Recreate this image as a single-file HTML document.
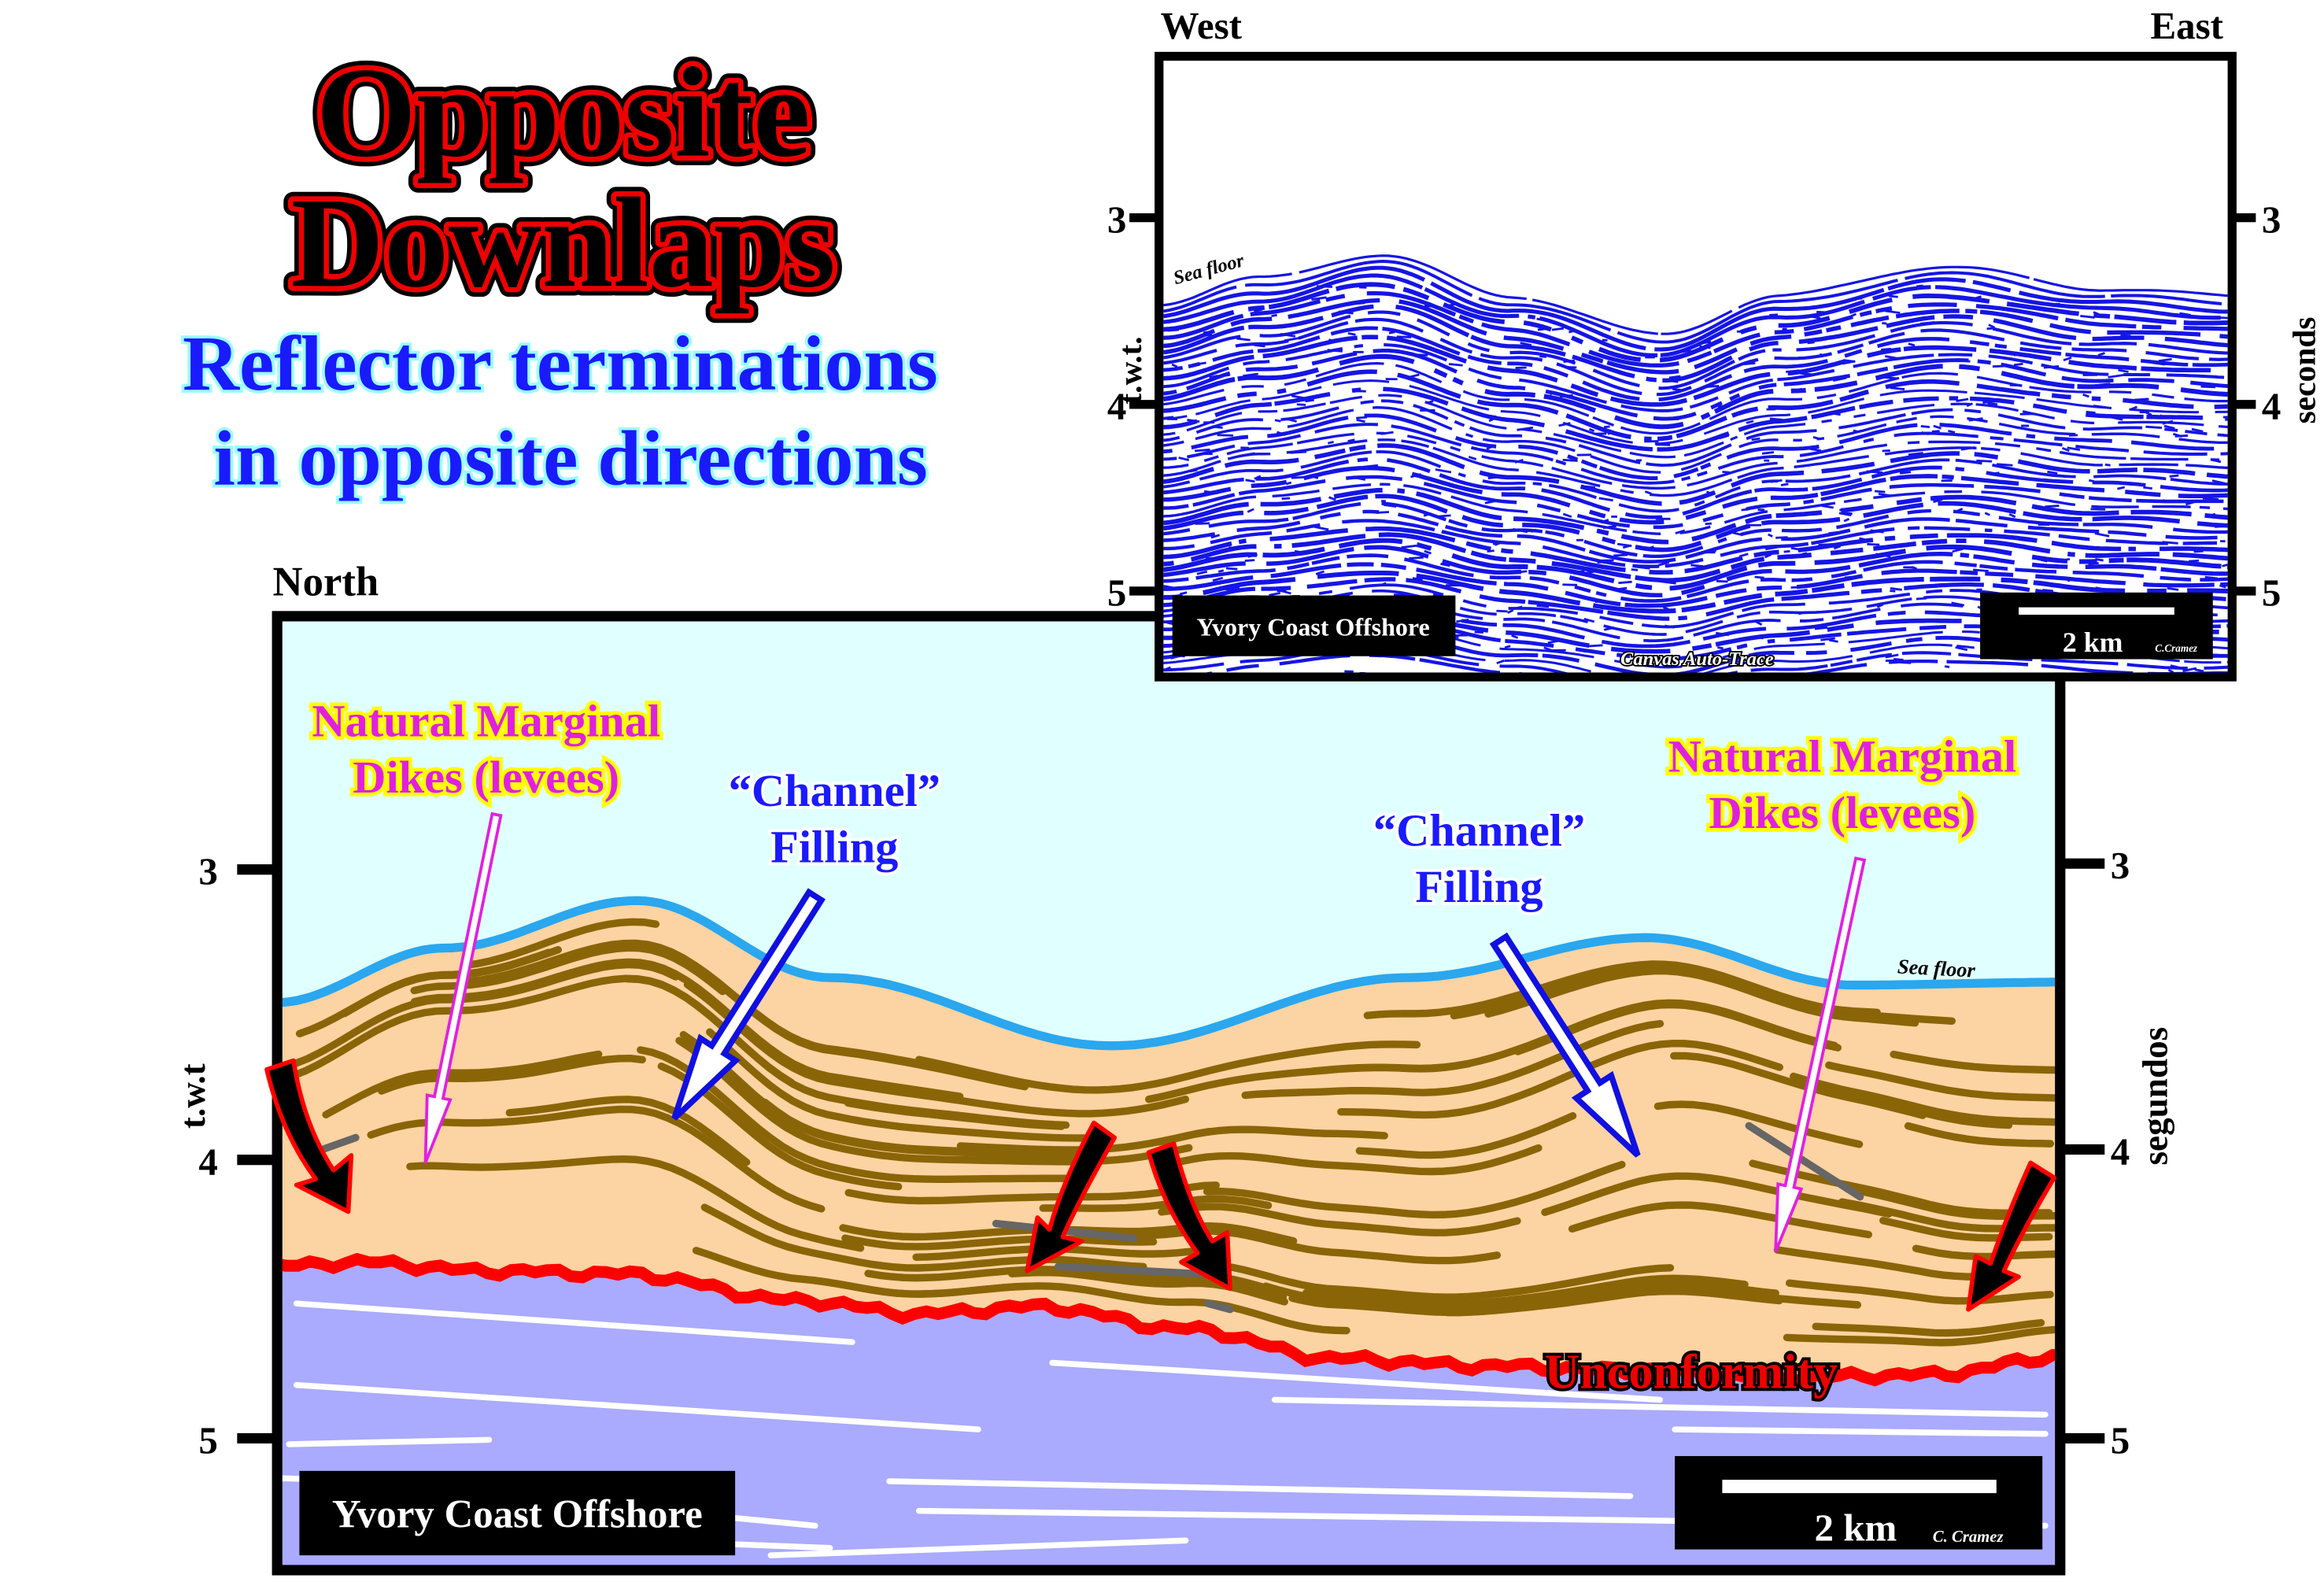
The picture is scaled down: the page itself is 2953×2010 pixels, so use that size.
<!DOCTYPE html>
<html><head><meta charset="utf-8"><style>
html,body{margin:0;padding:0;background:#fff;width:2953px;height:2010px;overflow:hidden}
svg{display:block}
text{font-family:"Liberation Serif",serif;font-weight:bold}
</style></head><body>
<svg id="s" width="2953" height="2010" viewBox="0 0 1568 1068" preserveAspectRatio="none" xmlns="http://www.w3.org/2000/svg">
<defs>
<clipPath id="cl"><rect x="190" y="419" width="1197" height="638"/></clipPath>
<clipPath id="cs"><rect x="785" y="41" width="718" height="413"/></clipPath>
</defs>
<!-- titles -->
<g text-anchor="middle">
<text x="380" y="105" font-size="87" fill="#000" stroke="#000" stroke-width="13" stroke-linejoin="round">Opposite</text>
<text x="380" y="105" font-size="87" fill="#000" stroke="#e00" stroke-width="7" stroke-linejoin="round" paint-order="stroke">Opposite</text>
<text x="380" y="193" font-size="87" fill="#000" stroke="#000" stroke-width="13" stroke-linejoin="round">Downlaps</text>
<text x="380" y="193" font-size="87" fill="#000" stroke="#e00" stroke-width="7" stroke-linejoin="round" paint-order="stroke">Downlaps</text>
<text x="378" y="263" font-size="53" fill="#1a1aff" stroke="#9ff" stroke-width="4" paint-order="stroke">Reflector terminations</text>
<text x="385" y="327" font-size="53" fill="#1a1aff" stroke="#9ff" stroke-width="4" paint-order="stroke">in opposite directions</text>
</g>
<!-- lower panel -->
<text x="184" y="402" font-size="28" fill="#000">North</text>
<g id="lower" clip-path="url(#cl)">
<rect x="190" y="419" width="1197" height="638" fill="#e0ffff"/>
<path id="orange" fill="#fcd3a2"/>
<path id="purple" fill="#aaaaff"/>
<g id="white" stroke="#fff" stroke-width="4" fill="none" stroke-linecap="round"></g>
<g id="brown" stroke="#8a6508" stroke-width="5" fill="none" stroke-linecap="round"></g>
<g stroke="#666" stroke-width="5" stroke-linecap="round">
<line x1="212" y1="778" x2="240" y2="768"/><line x1="672" y1="826" x2="765" y2="836"/><line x1="714" y1="855" x2="810" y2="860"/><line x1="1180" y1="760" x2="1255" y2="808"/><line x1="815" y1="880" x2="830" y2="884"/>
</g>
<path id="sea" stroke="#2aa7ee" stroke-width="6" fill="none"/>
<path id="unc" stroke="#f00" stroke-width="8" fill="none"/>
</g>
<rect x="187" y="416" width="1203" height="644" fill="none" stroke="#000" stroke-width="7"/>
<g stroke="#000" stroke-width="7"><line x1="160" y1="587" x2="187" y2="587"/><line x1="160" y1="783" x2="187" y2="783"/><line x1="160" y1="971" x2="187" y2="971"/>
<line x1="1390" y1="583" x2="1420" y2="583"/><line x1="1390" y1="776" x2="1420" y2="776"/><line x1="1390" y1="971" x2="1420" y2="971"/></g>
<g font-size="26"><text x="134" y="597">3</text><text x="134" y="793">4</text><text x="134" y="981">5</text>
<text x="1424" y="593">3</text><text x="1424" y="786">4</text><text x="1424" y="981">5</text></g>
<text transform="translate(138,740) rotate(-90)" font-size="24" text-anchor="middle">t.w.t</text>
<text transform="translate(1462,740) rotate(-90)" font-size="24" text-anchor="middle">segundos</text>
<rect x="202" y="993" width="294" height="57" fill="#000"/>
<text x="349" y="1031" font-size="27" fill="#fff" text-anchor="middle">Yvory Coast Offshore</text>
<rect x="1130" y="983" width="248" height="63" fill="#000"/>
<rect x="1162" y="999" width="185" height="9" fill="#fff"/>
<text x="1252" y="1040" font-size="26" fill="#fff" text-anchor="middle">2 km</text>
<text x="1304" y="1041" font-size="11" fill="#fff" font-style="italic">C. Cramez</text>
<text x="1280" y="657" font-size="14" font-style="italic" transform="rotate(3,1280,657)">Sea floor</text>
<!-- labels -->
<g text-anchor="middle" font-size="31">
<text x="328" y="497" fill="#e020e0" stroke="#ff0" stroke-width="5" paint-order="stroke">Natural Marginal</text>
<text x="328" y="535" fill="#e020e0" stroke="#ff0" stroke-width="5" paint-order="stroke">Dikes (levees)</text>
<text x="1243" y="521" fill="#e020e0" stroke="#ff0" stroke-width="5" paint-order="stroke">Natural Marginal</text>
<text x="1243" y="559" fill="#e020e0" stroke="#ff0" stroke-width="5" paint-order="stroke">Dikes (levees)</text>
<text x="563" y="544" fill="#1a1aff" stroke="#fff" stroke-width="4" paint-order="stroke">“Channel”</text>
<text x="563" y="582" fill="#1a1aff" stroke="#fff" stroke-width="4" paint-order="stroke">Filling</text>
<text x="998" y="571" fill="#1a1aff" stroke="#fff" stroke-width="4" paint-order="stroke">“Channel”</text>
<text x="998" y="609" fill="#1a1aff" stroke="#fff" stroke-width="4" paint-order="stroke">Filling</text>
<text x="1141" y="937" font-size="33" fill="#e00" stroke="#000" stroke-width="4" paint-order="stroke">Unconformity</text>
</g>
<g id="arrows"></g>
<!-- seismic panel -->
<text x="783" y="26" font-size="26">West</text>
<text x="1500" y="26" font-size="26" text-anchor="end">East</text>
<g id="seis" clip-path="url(#cs)"><rect x="785" y="41" width="718" height="413" fill="#fff"/></g>
<rect x="782" y="38" width="724" height="419" fill="none" stroke="#000" stroke-width="6"/>
<g stroke="#000" stroke-width="6"><line x1="762" y1="147" x2="782" y2="147"/><line x1="762" y1="273" x2="782" y2="273"/><line x1="762" y1="399" x2="782" y2="399"/>
<line x1="1506" y1="147" x2="1522" y2="147"/><line x1="1506" y1="273" x2="1522" y2="273"/><line x1="1506" y1="399" x2="1522" y2="399"/></g>
<g font-size="26"><text x="747" y="157">3</text><text x="747" y="283">4</text><text x="747" y="409">5</text>
<text x="1526" y="157">3</text><text x="1526" y="283">4</text><text x="1526" y="409">5</text></g>
<text transform="translate(770,250) rotate(-90)" font-size="22" text-anchor="middle">t.w.t.</text>
<text transform="translate(1562,250) rotate(-90)" font-size="22" text-anchor="middle">seconds</text>
<text x="793" y="192" font-size="13" font-style="italic" transform="rotate(-15,793,192)">Sea floor</text>
<rect x="791" y="402" width="191" height="41" fill="#000"/>
<text x="886" y="429" font-size="17" fill="#fff" text-anchor="middle">Yvory Coast Offshore</text>
<rect x="1336" y="400" width="157" height="45" fill="#000"/>
<rect x="1362" y="410" width="105" height="5" fill="#fff"/>
<text x="1412" y="440" font-size="19" fill="#fff" text-anchor="middle">2 km</text>
<text x="1454" y="440" font-size="7" fill="#fff" font-style="italic">C.Cramez</text>
<text x="1145" y="449" font-size="13" font-style="italic" fill="#fff" stroke="#000" stroke-width="2" paint-order="stroke" text-anchor="middle">Canvas Auto-Trace</text>
</svg>
<script>
var NS="http://www.w3.org/2000/svg";
function lerp(pts,x){for(var i=0;i<pts.length-1;i++){if(x<=pts[i+1][0]){var t=(x-pts[i][0])/(pts[i+1][0]-pts[i][0]);var a=(1-Math.cos(t*Math.PI))/2;return pts[i][1]+(pts[i+1][1]-pts[i][1])*a;}}return pts[pts.length-1][1];}
var seed=7;function rnd(){seed=(seed*16807)%2147483647;return seed/2147483647;}
function el(p,tag,at){var e=document.createElementNS(NS,tag);for(var k in at)e.setAttribute(k,at[k]);p.appendChild(e);return e;}
var S=[[185,677],[300,640],[430,608],[560,660],[750,706],[950,660],[1110,633],[1250,665],[1400,663]];
var U=[[185,855],[240,852],[330,858],[420,860],[540,878],[620,887],[700,882],[800,897],[900,917],[1000,922],[1100,925],[1200,930],[1300,928],[1400,915]];
function pathOf(pts,f,x0,x1,st){var d="";for(var x=x0;x<=x1;x+=st){d+=(d?"L":"M")+x.toFixed(1)+","+f(x).toFixed(1);}return d;}
var fs=function(x){return lerp(S,x)}, fu=function(x){return lerp(U,x)};
var fuj=function(x){var r=Math.sin(x*0.9)*1.5+Math.sin(x*0.23)*2;return lerp(U,x)+r;};
document.getElementById("sea").setAttribute("d",pathOf(S,fs,185,1395,5));
document.getElementById("unc").setAttribute("d",pathOf(U,fuj,185,1395,8));
document.getElementById("orange").setAttribute("d",pathOf(S,fs,185,1395,5)+"L1395,1060L185,1060Z");
document.getElementById("purple").setAttribute("d",pathOf(U,fuj,185,1395,8)+"L1395,1060L185,1060Z");
var W=[[200,880,575,906],[200,935,660,965],[195,975,330,972],[190,998,270,1000],[290,1005,550,1030],[520,1050,800,1040],[600,1000,1100,1010],[620,1020,1380,1030],[710,920,1120,945],[860,945,1380,955],[1130,965,1380,968],[430,1040,560,1045]];
var wg=document.getElementById("white");W.forEach(function(w){el(wg,"line",{x1:w[0],y1:w[1],x2:w[2],y2:w[3]});});
var bg=document.getElementById("brown");
var mounds=[[290,50],[440,55],[560,-25],[820,30],[1130,55],[1240,40]];
for(var i=0;i<75;i++){var x0=190+rnd()*1150,len=110+rnd()*260,t=0.05+rnd()*0.9;var x1=Math.min(x0+len,1390);
 var f=function(x){var s=fs(x),u=fu(x);var y=s+(u-s)*t+12*(1-t)-4;var b=0;mounds.forEach(function(m){b-=m[1]*t*(1-t)*2.5*Math.exp(-Math.pow((x-m[0])/90,2));});return Math.max(s+12,Math.min(u-8,y+b));};
 el(bg,"path",{d:pathOf(null,f,x0,x1,8)});}
var ag=document.getElementById("arrows");
function hollow(x0,y0,x1,y1,w,hw,hl,fill,stroke,sw){var dx=x1-x0,dy=y1-y0,L=Math.sqrt(dx*dx+dy*dy),ux=dx/L,uy=dy/L,px=-uy,py=ux;var bx=x1-ux*hl,by=y1-uy*hl;
 var p=[[x0+px*w,y0+py*w],[bx+px*w,by+py*w],[bx+px*hw,by+py*hw],[x1,y1],[bx-px*hw,by-py*hw],[bx-px*w,by-py*w],[x0-px*w,y0-py*w]];
 el(ag,"polygon",{points:p.map(function(q){return q[0].toFixed(1)+","+q[1].toFixed(1)}).join(" "),fill:fill,stroke:stroke,"stroke-width":sw,"stroke-linejoin":"miter"});}
hollow(335,550,287,785,3,8,45,"#fff","#e020e0",2);
hollow(1255,580,1198,845,3,8,45,"#fff","#e020e0",2);
hollow(550,605,455,755,5,14,55,"#fff","#1010e0",4);
hollow(1012,635,1105,780,5,14,55,"#fff","#1010e0",4);
function curved(d){el(ag,"path",{d:d,fill:"#000",stroke:"#f00","stroke-width":3,"stroke-linejoin":"round"});}
curved("M180,722 L198,716 Q205,760 225,790 L237,780 L235,818 L200,800 L213,796 Q190,765 180,722Z");
curved("M738,758 L752,768 Q728,810 717,835 L730,838 L693,858 L700,822 L708,830 Q718,795 738,758Z");
curved("M775,778 L792,772 Q803,815 818,838 L828,832 L830,870 L797,852 L808,846 Q785,815 775,778Z");
curved("M1370,785 L1386,795 Q1365,830 1352,858 L1362,862 L1328,884 L1333,848 L1343,853 Q1355,818 1370,785Z");
var T=[[780,205],[850,188],[930,172],[1020,200],[1120,226],[1200,200],[1310,180],[1420,195],[1510,200]];
var sg=document.getElementById("seis");
for(var k=0;k<56;k++){
 var ft=function(x){var base=lerp(T,x);var dep=k*4.6;var fac=Math.max(0,1-k/45);return base+dep+(1-fac)*((205-base)*0.5)+Math.sin(x*0.05+k)*1.2;};
 var d=pathOf(null,ft,785,1505,4);
 var segs=[];for(var j=0;j<14;j++){segs.push((5+rnd()*(k<4?200:60)).toFixed(0));segs.push((2+rnd()*(k<4?4:14)).toFixed(0));}
 el(sg,"path",{d:d,stroke:"#1515e6","stroke-width":(1.6+rnd()*1.6).toFixed(1),fill:"none","stroke-dasharray":segs.join(" ")});
}
for(var k=0;k<500;k++){var x=785+rnd()*718,yy=lerp(T,x)+10+rnd()*(450-lerp(T,x));el(sg,"line",{x1:x,y1:yy,x2:x+3+rnd()*8,y2:yy+(rnd()-0.5)*4,stroke:"#1515e6","stroke-width":1.5});}
</script>
</body></html>
